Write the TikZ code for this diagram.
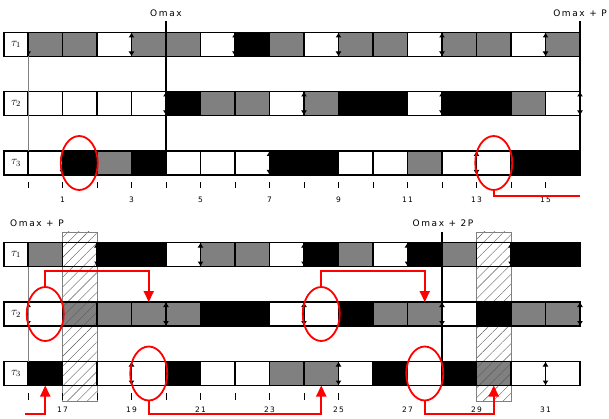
\documentclass[tikz,border=0pt]{standalone}
\usepackage{fontspec}
\newfontfamily\lblfont[LetterSpace=18]{DejaVu Sans}
\usetikzlibrary{arrows.meta,patterns.meta,shapes.geometric}
\definecolor{cgray}{RGB}{128,128,128}
\newcommand\cellrow[3]{%
  \foreach \c [count=\i from 0] in {#3} {\path[#1\c] ({28+34.5*\i},#2) rectangle ++(34.5,24);}}
\begin{document}
\begin{tikzpicture}[x=1pt,y=-1pt,
  bord/.style={draw=black,line width=1.1pt},
  aG/.style={fill=cgray}, aW/.style={fill=white}, aB/.style={},
  bG/.style={bord}, bW/.style={bord}, bB/.style={fill=black,bord},
  arr/.style={line width=1.4pt,{Latex[length=5pt,width=6pt]}-{Latex[length=5pt,width=6pt]}},
  arrD/.style={line width=1.4pt,-{Latex[length=5pt,width=6pt]}},
  omaxline/.style={line width=2pt},
  thinl/.style={draw=gray,line width=0.6pt},
  hatchbox/.style={draw=gray,line width=0.6pt,pattern={Lines[angle=45,distance=7pt,line width=0.4pt]},pattern color=gray!70!black},
  tickl/.style={line width=1pt},
  redl/.style={draw=red,line width=2pt},
  redarr/.style={draw=red,line width=2pt,-{Triangle[length=11pt,width=10pt]}},
  redell/.style={ellipse,draw=red,line width=1.8pt,minimum width=37pt,minimum height=54pt,inner sep=0pt},
  lbl/.style={font={\lblfont\fontsize{9}{10}\selectfont},inner sep=0pt},
  num/.style={font={\lblfont\fontsize{7.5}{9}\selectfont},inner sep=0pt},
  tau/.style={font={\fontsize{11.5}{12}\selectfont},inner sep=0pt}
]
\useasboundingbox (0,0) rectangle (609,419);
% ---------- pass 1: white and gray cells
\cellrow{a}{32.5}{G,G,W,G,G,W,B,G,W,G,G,W,G,G,W,G}
\cellrow{a}{91.5}{W,W,W,W,B,G,G,W,G,B,B,W,B,B,G,W}
\cellrow{a}{151}{W,B,G,B,W,W,W,B,B,W,W,G,W,W,B,B}
\cellrow{a}{242.5}{G,W,B,B,W,G,G,W,B,G,W,B,G,W,B,B}
\cellrow{a}{302}{W,G,G,G,G,B,B,W,W,B,G,G,W,B,G,G}
\cellrow{a}{361.5}{B,W,W,W,B,W,W,G,G,W,B,W,B,G,W,W}
% ---------- hatched boxes
\path[hatchbox] (62.5,232) rectangle (97,401);
\path[hatchbox] (476.5,232) rectangle (511,401);
% ---------- arrival arrows
\draw[arrD] (28,44) -- (28,56.5);
\foreach \t in {3,6,9,12,15} \draw[arr] ({28+34.5*\t},32.5) -- ++(0,24);
\foreach \t in {4,8,12,16} \draw[arr] ({28+34.5*\t},91.5) -- ++(0,24);
\draw[arrD] (62.5,163) -- (62.5,175);
\foreach \t in {7,13} \draw[arr] ({28+34.5*\t},151) -- ++(0,24);
\foreach \t in {18,21,24,27,30} \draw[arr] ({28+34.5*(\t-16)},242.5) -- ++(0,24);
\foreach \t in {16,20,24,28,32} \draw[arr] ({28+34.5*(\t-16)},302) -- ++(0,24);
\foreach \t in {19,25,31} \draw[arr] ({28+34.5*(\t-16)},361.5) -- ++(0,24);
% ---------- pass 2: black cells and borders
\cellrow{b}{32.5}{G,G,W,G,G,W,B,G,W,G,G,W,G,G,W,G}
\cellrow{b}{91.5}{W,W,W,W,B,G,G,W,G,B,B,W,B,B,G,W}
\cellrow{b}{151}{W,B,G,B,W,W,W,B,B,W,W,G,W,W,B,B}
\cellrow{b}{242.5}{G,W,B,B,W,G,G,W,B,G,W,B,G,W,B,B}
\cellrow{b}{302}{W,G,G,G,G,B,B,W,W,B,G,G,W,B,G,G}
\cellrow{b}{361.5}{B,W,W,W,B,W,W,G,G,W,B,W,B,G,W,W}
% ---------- task label cells
\foreach \y/\k in {32.5/1,91.5/2,151/3,242.5/1,302/2,361.5/3} {
  \draw[bord,fill=white] (4,\y) rectangle (28,\y+24);
  \node[tau] (tau\k-\y) at (16,\y+12) {$\tau_{\k}$};
}
% ---------- thin lines at the start
\draw[thinl] (28,56.5) -- (28,151);
\draw[thinl] (28,266.5) -- (28,361.5);
% ---------- Omax lines and labels
\node[lbl] (om) at (166,13) {Omax};
\node[lbl] (omp) at (580,13) {Omax + P};
\node[lbl,anchor=west] (omp2) at (10,223) {Omax + P};
\node[lbl] (om2p) at (443,223) {Omax + 2P};
\draw[omaxline] (166,21) -- (166,151);
\draw[omaxline] (580,21) -- (580,151);
\draw[omaxline] (442,232) -- (442,361.5);
% ---------- ticks and numbers
\foreach \t in {0,...,15} \draw[tickl] ({28+34.5*\t},182) -- ++(0,6.5);
\foreach \t in {1,3,...,15} \node[num] (n\t) at ({28+34.5*\t},200) {\t};
\foreach \t in {16,...,25} \draw[tickl] ({28+34.5*(\t-16)},393) -- ++(0,6.5);
\foreach \t in {17,19,...,31} \node[num] (n\t) at ({28+34.5*(\t-16)},410) {\t};
% ---------- red marks
\node[redell] (eA) at (79.25,163) {};
\node[redell] (eB) at (493.75,163) {};
\coordinate (wrapR) at (580,196);
\draw[redl] (eB.south) |- (wrapR);
\coordinate (wrapL) at (25,414);
\coordinate (t16) at (45.25,385.5);
\draw[redarr] (wrapL) -| (t16);
\node[redell] (eC) at (45.25,314) {};
\node[redell] (eD) at (321.25,314) {};
\node[redell] (eE) at (148.75,373.5) {};
\node[redell] (eF) at (424.75,373.5) {};
\coordinate (t19) at (148.75,302);
\coordinate (t27) at (424.75,302);
\coordinate (t24) at (321.25,385.5);
\coordinate (t29) at (493.75,385.5);
\draw[redarr] (eC.north) -- ++(0,-15) -| (t19);
\draw[redarr] (eD.north) -- ++(0,-15) -| (t27);
\draw[redarr] (eE.south) -- ++(0,13) -| (t24);
\draw[redarr] (eF.south) -- ++(0,13) -| (t29);
\end{tikzpicture}
\end{document}
